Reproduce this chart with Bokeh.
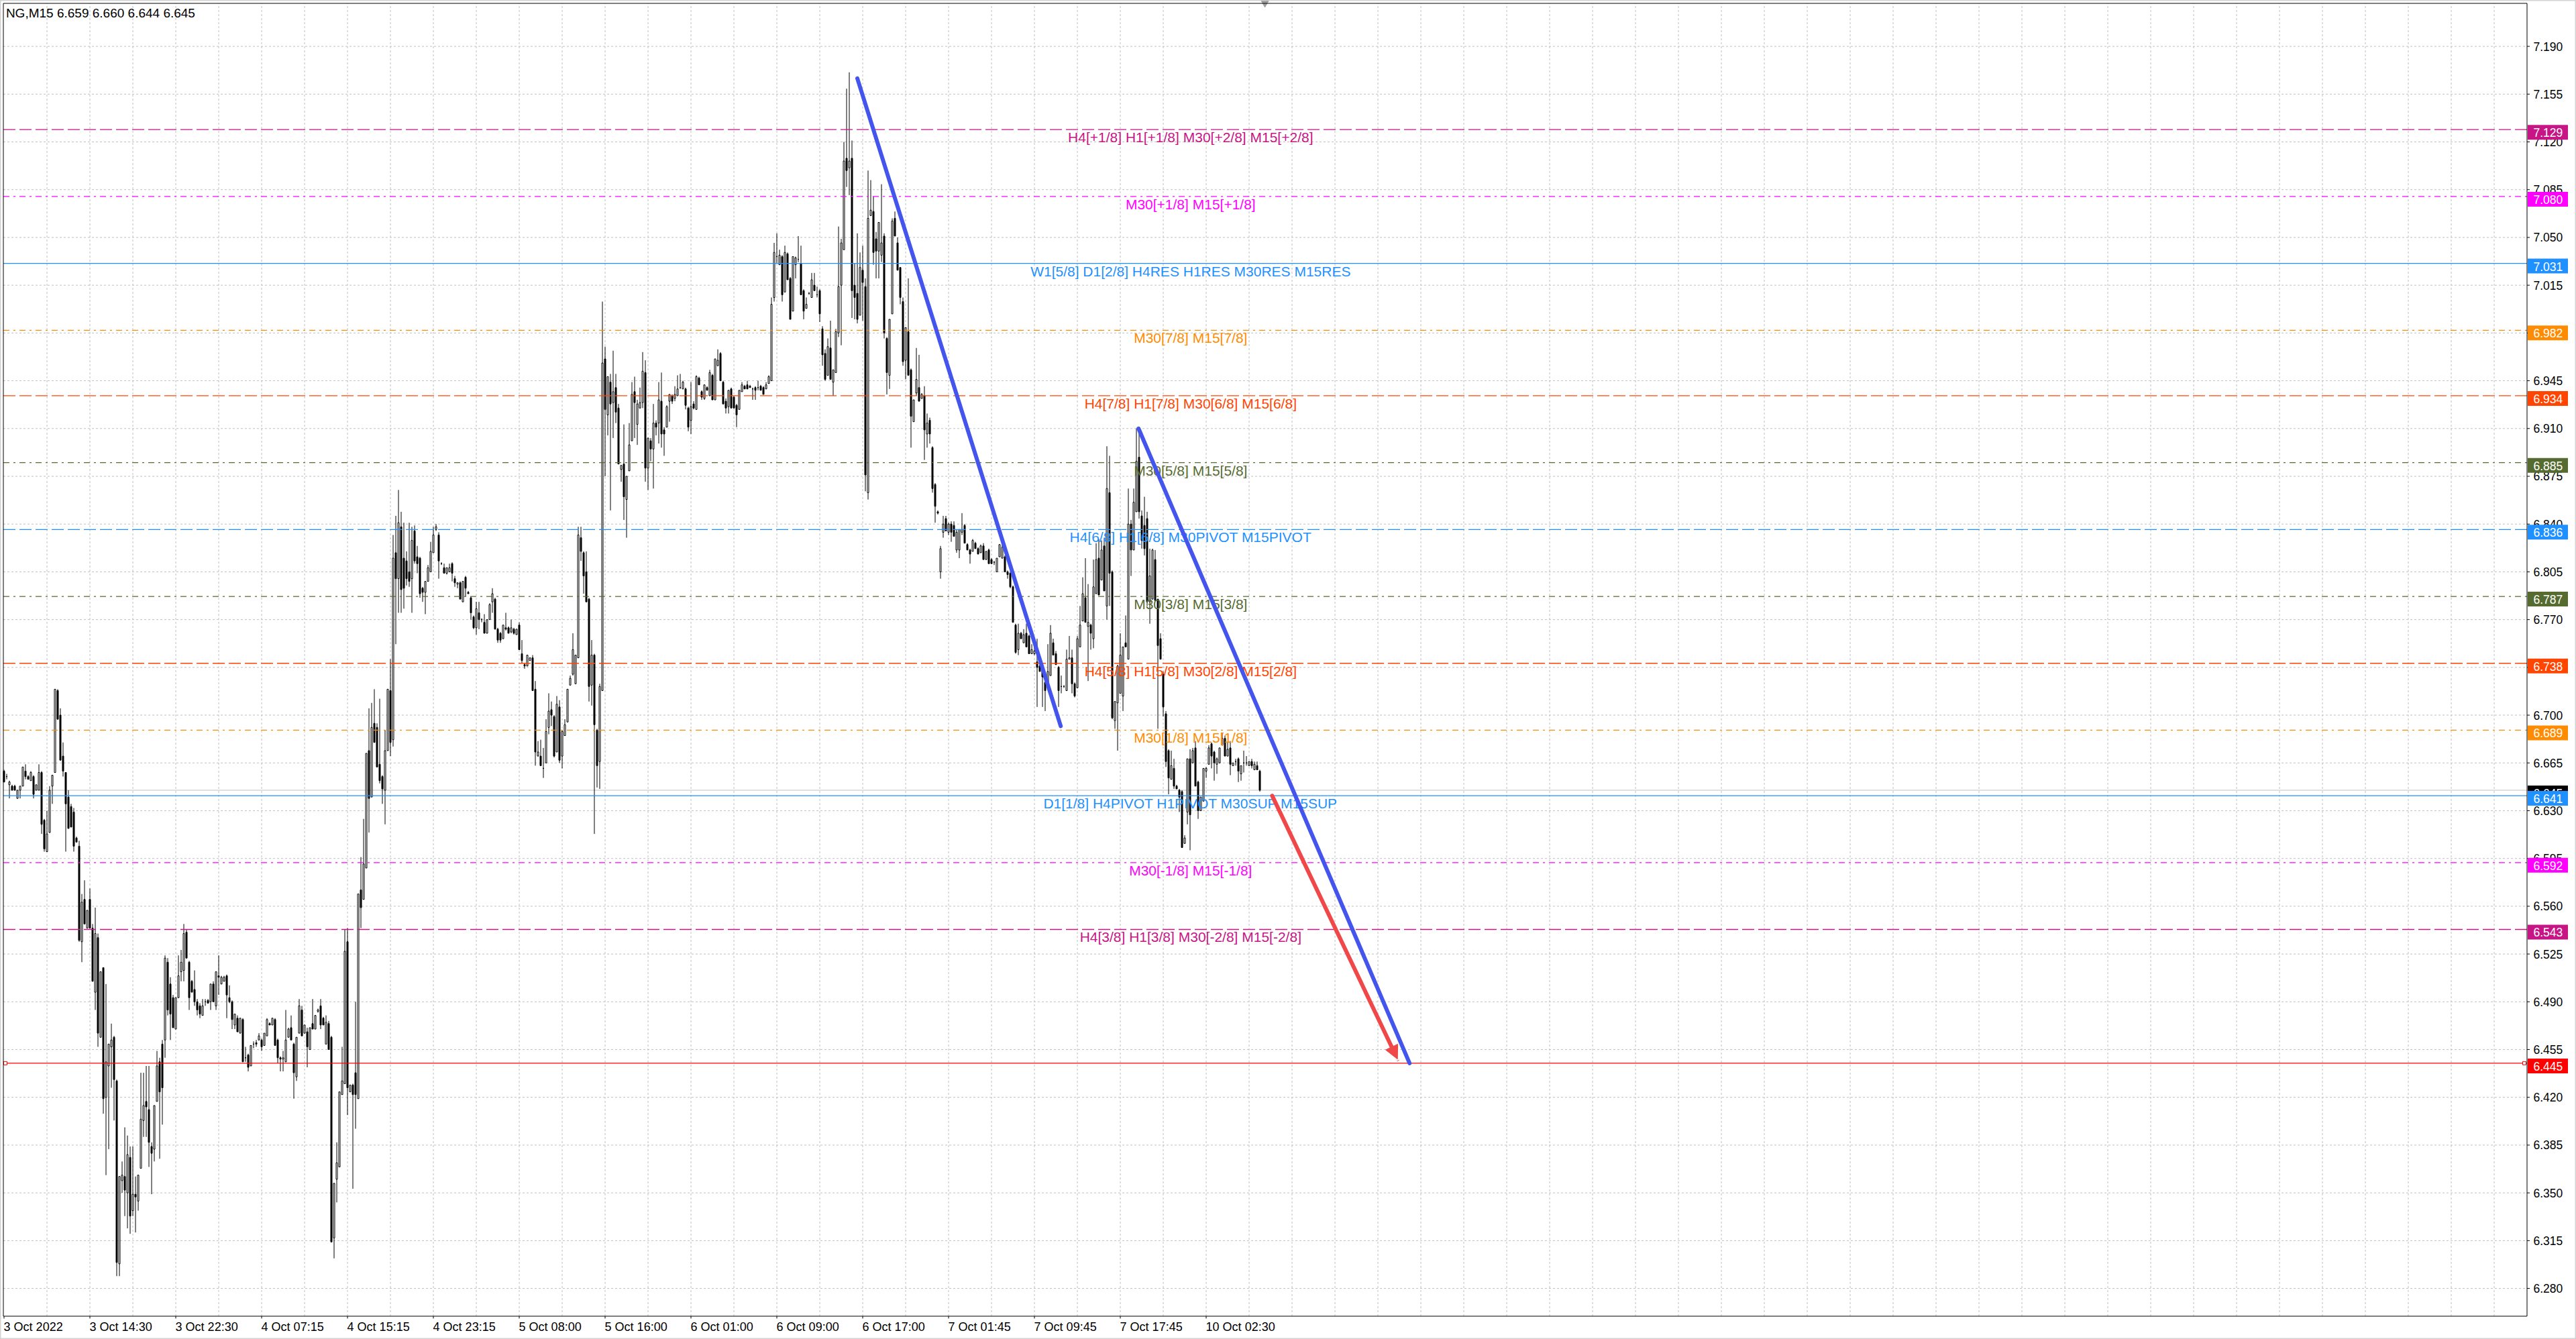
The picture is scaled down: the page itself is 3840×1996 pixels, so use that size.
from bokeh.plotting import figure
from bokeh.models import Arrow, NormalHead, Range1d, ColumnDataSource
from bokeh.core.properties import value
from bokeh.embed import file_html
from bokeh.resources import INLINE

FONT = "Liberation Sans"

# ---------------- data (prices in thousandths) ----------------
symbol = "NG,M15"

open_k = [
    6659, 6655, 6649, 6648, 6648, 6639, 6645, 6648, 6659, 6655,
    6652, 6655, 6645, 6645, 6658, 6623, 6600, 6614, 6648, 6658,
    6718, 6700, 6670, 6658, 6640, 6633, 6629, 6610, 6604, 6534,
    6565, 6544, 6565, 6544, 6497, 6537, 6464, 6515, 6420, 6443,
    6457, 6464, 6432, 6298, 6359, 6362, 6350, 6376, 6337, 6349,
    6344, 6368, 6403, 6417, 6411, 6384, 6382, 6417, 6446, 6459,
    6462, 6519, 6503, 6493, 6470, 6493, 6512, 6513, 6541, 6519,
    6505, 6499, 6490, 6487, 6480, 6490, 6491, 6490, 6503, 6487,
    6509, 6503, 6505, 6509, 6493, 6490, 6473, 6478, 6467, 6477,
    6449, 6451, 6443, 6459, 6460, 6462, 6462, 6458, 6465, 6474,
    6473, 6477, 6462, 6449, 6448, 6446, 6464, 6471, 6459, 6435,
    6467, 6484, 6467, 6468, 6455, 6474, 6470, 6483, 6487, 6478,
    6459, 6474, 6464, 6317, 6360, 6369, 6422, 6430, 6534, 6424,
    6429, 6438, 6419, 6572, 6565, 6588, 6674, 6640, 6694, 6691,
    6664, 6655, 6645, 6674, 6718, 6682, 6819, 6800, 6838, 6815,
    6813, 6805, 6800, 6835, 6816, 6815, 6793, 6790, 6798, 6805,
    6819, 6836, 6832, 6811, 6808, 6804, 6805, 6811, 6800, 6796,
    6797, 6783, 6801, 6790, 6786, 6772, 6764, 6775, 6770, 6768,
    6760, 6770, 6783, 6785, 6763, 6760, 6756, 6764, 6764, 6761,
    6763, 6759, 6766, 6745, 6737, 6736, 6740, 6742, 6719, 6670,
    6670, 6661, 6665, 6691, 6704, 6699, 6673, 6706, 6670, 6685,
    6695, 6722, 6730, 6723, 6742, 6830, 6819, 6805, 6785, 6722,
    6744, 6689, 6666, 6718, 6961, 6920, 6944, 6929, 6940, 6925,
    6880, 6884, 6858, 6879, 6901, 6937, 6913, 6925, 6929, 6951,
    6881, 6901, 6895, 6914, 6914, 6930, 6909, 6911, 6930, 6934,
    6932, 6934, 6940, 6939, 6939, 6925, 6916, 6928, 6924, 6947,
    6937, 6932, 6940, 6934, 6949, 6931, 6956, 6965, 6944, 6930,
    6926, 6939, 6933, 6927, 6924, 6937, 6941, 6942, 6941, 6939,
    6940, 6940, 6941, 6940, 6939, 6943, 6945, 7006, 7036, 7030,
    7036, 7010, 7038, 7020, 6996, 7030, 7034, 7031, 7011, 6998,
    7009, 7006, 7015, 7008, 7011, 6983, 6965, 6949, 6969, 6944,
    6951, 6980, 7015, 7041, 7108, 7101, 7108, 7015, 7009, 6993,
    7026, 7014, 6863, 7066, 7069, 7049, 7040, 7037, 7051, 6976,
    6949, 6994, 7064, 7046, 7028, 7003, 6960, 6981, 6953, 6915,
    6936, 6940, 6932, 6934, 6906, 6916, 6896, 6869, 6849, 6805,
    6834, 6844, 6834, 6840, 6839, 6821, 6821, 6834, 6839, 6825,
    6821, 6820, 6826, 6822, 6819, 6824, 6814, 6821, 6814, 6812,
    6805, 6816, 6815, 6816, 6805, 6804, 6794, 6766, 6748, 6760,
    6753, 6760, 6758, 6745, 6745, 6739, 6736, 6735, 6724, 6720,
    6729, 6753, 6745, 6735, 6721, 6721, 6718, 6741, 6742, 6723,
    6720, 6750, 6769, 6786, 6765, 6766, 6756, 6789, 6815, 6799,
    6824, 6780, 6863, 6805, 6696, 6709, 6716, 6714, 6753, 6741,
    6840, 6821, 6849, 6889, 6846, 6839, 6844, 6783, 6785, 6814,
    6785, 6756, 6730, 6701, 6674, 6653, 6661, 6648, 6645, 6644,
    6606, 6629, 6668, 6665, 6676, 6651, 6630, 6637, 6659, 6664,
    6679, 6673, 6664, 6665, 6678, 6683, 6670, 6676, 6663, 6666,
    6668, 6657, 6665, 6665, 6663, 6666, 6660, 6663, 6659,
]

high_k = [
    6660, 6657, 6652, 6649, 6649, 6645, 6648, 6662, 6664, 6656,
    6659, 6656, 6649, 6664, 6659, 6624, 6630, 6648, 6656, 6719,
    6719, 6705, 6680, 6658, 6645, 6635, 6632, 6611, 6608, 6569,
    6579, 6557, 6573, 6547, 6559, 6540, 6512, 6515, 6503, 6459,
    6474, 6465, 6433, 6362, 6373, 6398, 6392, 6384, 6384, 6362,
    6363, 6438, 6438, 6443, 6443, 6387, 6414, 6454, 6449, 6462,
    6524, 6522, 6508, 6495, 6493, 6524, 6528, 6547, 6543, 6520,
    6506, 6513, 6492, 6489, 6492, 6492, 6492, 6503, 6505, 6512,
    6524, 6509, 6509, 6510, 6502, 6491, 6481, 6480, 6478, 6478,
    6457, 6452, 6458, 6461, 6462, 6467, 6463, 6467, 6478, 6475,
    6478, 6478, 6463, 6450, 6454, 6484, 6471, 6480, 6460, 6464,
    6492, 6487, 6473, 6471, 6471, 6492, 6480, 6485, 6492, 6479,
    6480, 6476, 6465, 6357, 6387, 6424, 6457, 6543, 6544, 6429,
    6430, 6490, 6569, 6596, 6624, 6672, 6705, 6709, 6719, 6694,
    6712, 6656, 6689, 6719, 6741, 6832, 6846, 6865, 6849, 6841,
    6820, 6841, 6838, 6839, 6824, 6816, 6794, 6798, 6810, 6827,
    6838, 6840, 6834, 6812, 6811, 6808, 6811, 6812, 6802, 6797,
    6798, 6798, 6802, 6791, 6787, 6773, 6783, 6783, 6771, 6774,
    6770, 6782, 6793, 6786, 6764, 6761, 6766, 6775, 6765, 6770,
    6764, 6763, 6768, 6755, 6738, 6744, 6742, 6744, 6725, 6681,
    6682, 6676, 6697, 6716, 6710, 6700, 6714, 6711, 6689, 6697,
    6719, 6729, 6760, 6744, 6838, 6838, 6820, 6820, 6786, 6755,
    6745, 6690, 6723, 7003, 6970, 6948, 6950, 6967, 6950, 6928,
    6883, 6913, 6875, 6914, 6944, 6948, 6931, 6940, 6966, 6960,
    6903, 6903, 6928, 6916, 6944, 6951, 6911, 6927, 6935, 6935,
    6941, 6949, 6950, 6945, 6940, 6926, 6944, 6930, 6949, 6948,
    6938, 6942, 6941, 6953, 6950, 6961, 6968, 6966, 6945, 6932,
    6938, 6940, 6934, 6928, 6938, 6944, 6942, 6945, 6942, 6940,
    6941, 6945, 6942, 6941, 6944, 6949, 7006, 7046, 7053, 7041,
    7037, 7044, 7039, 7021, 7036, 7036, 7051, 7044, 7012, 7006,
    7010, 7024, 7024, 7014, 7012, 6985, 6968, 6976, 6989, 6953,
    6983, 7058, 7049, 7120, 7159, 7171, 7121, 7031, 7053, 7039,
    7044, 7020, 7099, 7092, 7080, 7054, 7061, 7089, 7053, 6977,
    6990, 7064, 7069, 7050, 7028, 7006, 6984, 7020, 6954, 6931,
    6969, 6964, 6936, 6941, 6921, 6918, 6897, 6870, 6850, 6824,
    6846, 6846, 6841, 6842, 6842, 6836, 6836, 6848, 6840, 6826,
    6822, 6829, 6827, 6823, 6825, 6826, 6820, 6822, 6815, 6813,
    6815, 6825, 6825, 6817, 6806, 6805, 6795, 6767, 6767, 6761,
    6763, 6767, 6759, 6752, 6752, 6756, 6738, 6736, 6725, 6752,
    6766, 6756, 6747, 6736, 6729, 6722, 6748, 6758, 6748, 6724,
    6758, 6780, 6801, 6815, 6796, 6767, 6814, 6826, 6829, 6828,
    6830, 6897, 6890, 6806, 6710, 6737, 6760, 6750, 6773, 6866,
    6843, 6866, 6910, 6910, 6850, 6860, 6849, 6822, 6822, 6821,
    6785, 6760, 6732, 6703, 6675, 6674, 6668, 6649, 6646, 6645,
    6612, 6668, 6675, 6676, 6681, 6652, 6640, 6661, 6662, 6678,
    6680, 6674, 6669, 6676, 6687, 6685, 6680, 6681, 6665, 6668,
    6669, 6663, 6674, 6670, 6666, 6668, 6666, 6666, 6660,
]

low_k = [
    6651, 6653, 6639, 6645, 6645, 6639, 6639, 6648, 6653, 6653,
    6652, 6639, 6645, 6645, 6613, 6600, 6600, 6614, 6635, 6658,
    6697, 6667, 6655, 6600, 6617, 6618, 6600, 6607, 6534, 6519,
    6547, 6544, 6544, 6505, 6484, 6457, 6464, 6408, 6363, 6382,
    6427, 6403, 6289, 6289, 6350, 6333, 6324, 6320, 6333, 6321,
    6337, 6368, 6391, 6391, 6369, 6349, 6373, 6417, 6375, 6400,
    6449, 6480, 6462, 6471, 6470, 6493, 6505, 6505, 6522, 6484,
    6497, 6487, 6480, 6478, 6480, 6487, 6489, 6484, 6490, 6484,
    6495, 6503, 6505, 6478, 6489, 6470, 6470, 6468, 6467, 6446,
    6446, 6439, 6443, 6456, 6457, 6462, 6454, 6458, 6465, 6473,
    6473, 6458, 6445, 6439, 6439, 6446, 6464, 6462, 6419, 6432,
    6467, 6465, 6467, 6442, 6455, 6470, 6470, 6482, 6470, 6473,
    6459, 6455, 6314, 6302, 6343, 6369, 6422, 6430, 6407, 6424,
    6353, 6397, 6419, 6544, 6565, 6588, 6614, 6640, 6680, 6662,
    6650, 6635, 6620, 6674, 6670, 6677, 6752, 6775, 6775, 6778,
    6795, 6794, 6775, 6811, 6804, 6786, 6783, 6774, 6798, 6805,
    6819, 6835, 6800, 6810, 6804, 6803, 6805, 6798, 6794, 6793,
    6785, 6783, 6787, 6789, 6770, 6763, 6759, 6763, 6768, 6760,
    6760, 6770, 6775, 6763, 6753, 6753, 6756, 6762, 6760, 6760,
    6759, 6759, 6748, 6738, 6734, 6736, 6740, 6718, 6663, 6670,
    6663, 6654, 6665, 6686, 6692, 6669, 6673, 6665, 6661, 6685,
    6695, 6722, 6729, 6723, 6742, 6813, 6789, 6783, 6710, 6707,
    6613, 6647, 6646, 6718, 6875, 6905, 6850, 6903, 6914, 6884,
    6871, 6843, 6830, 6879, 6901, 6903, 6898, 6925, 6925, 6871,
    6865, 6886, 6866, 6905, 6899, 6896, 6890, 6911, 6915, 6928,
    6930, 6934, 6939, 6939, 6924, 6908, 6906, 6924, 6924, 6942,
    6931, 6931, 6938, 6934, 6931, 6931, 6956, 6945, 6928, 6921,
    6921, 6925, 6925, 6911, 6924, 6937, 6939, 6939, 6940, 6931,
    6931, 6938, 6938, 6935, 6939, 6943, 6945, 7003, 7031, 7030,
    7003, 7010, 7019, 6990, 6996, 7020, 7032, 7008, 6990, 6998,
    7008, 7006, 7011, 7006, 6988, 6956, 6945, 6949, 6946, 6934,
    6951, 6977, 6971, 7041, 7087, 7081, 6991, 6990, 6987, 6993,
    6989, 6864, 6858, 7066, 7030, 7020, 7020, 7032, 6976, 6935,
    6939, 6994, 7051, 7026, 7001, 6956, 6946, 6949, 6896, 6915,
    6934, 6930, 6932, 6887, 6896, 6899, 6863, 6841, 6847, 6800,
    6830, 6835, 6832, 6827, 6831, 6819, 6815, 6832, 6826, 6821,
    6811, 6820, 6822, 6818, 6819, 6814, 6814, 6811, 6811, 6810,
    6805, 6816, 6815, 6805, 6800, 6793, 6768, 6745, 6744, 6756,
    6753, 6750, 6745, 6745, 6744, 6706, 6732, 6706, 6703, 6720,
    6729, 6744, 6737, 6706, 6716, 6720, 6718, 6741, 6716, 6713,
    6720, 6750, 6769, 6768, 6725, 6748, 6749, 6789, 6788, 6799,
    6791, 6770, 6780, 6697, 6690, 6674, 6716, 6703, 6750, 6741,
    6802, 6821, 6849, 6844, 6822, 6817, 6780, 6767, 6785, 6784,
    6690, 6741, 6699, 6662, 6642, 6653, 6646, 6646, 6629, 6603,
    6606, 6620, 6601, 6665, 6648, 6624, 6630, 6637, 6654, 6664,
    6661, 6652, 6657, 6665, 6678, 6670, 6670, 6656, 6663, 6663,
    6651, 6652, 6658, 6663, 6663, 6661, 6660, 6660, 6644,
]

close_k = [
    6651, 6655, 6651, 6645, 6645, 6645, 6648, 6662, 6655, 6653,
    6658, 6642, 6649, 6658, 6620, 6602, 6613, 6645, 6656, 6719,
    6697, 6667, 6659, 6635, 6617, 6618, 6604, 6607, 6535, 6563,
    6547, 6557, 6544, 6505, 6540, 6467, 6512, 6419, 6446, 6459,
    6462, 6433, 6299, 6362, 6363, 6352, 6378, 6333, 6349, 6347,
    6363, 6404, 6414, 6413, 6387, 6379, 6414, 6443, 6424, 6427,
    6522, 6484, 6481, 6471, 6493, 6509, 6519, 6540, 6522, 6493,
    6497, 6490, 6484, 6481, 6487, 6490, 6489, 6503, 6490, 6512,
    6508, 6508, 6508, 6495, 6490, 6477, 6481, 6468, 6478, 6446,
    6449, 6442, 6458, 6459, 6459, 6465, 6457, 6467, 6477, 6473,
    6478, 6458, 6449, 6448, 6449, 6462, 6470, 6462, 6438, 6464,
    6487, 6465, 6473, 6457, 6471, 6470, 6480, 6484, 6473, 6473,
    6475, 6455, 6314, 6357, 6372, 6424, 6432, 6527, 6427, 6429,
    6422, 6422, 6569, 6559, 6591, 6672, 6639, 6691, 6680, 6662,
    6652, 6646, 6674, 6719, 6680, 6815, 6800, 6841, 6792, 6793,
    6800, 6798, 6828, 6813, 6811, 6789, 6790, 6798, 6808, 6820,
    6832, 6838, 6813, 6811, 6804, 6808, 6808, 6804, 6797, 6797,
    6785, 6798, 6793, 6789, 6775, 6764, 6778, 6770, 6770, 6760,
    6770, 6781, 6789, 6763, 6755, 6755, 6766, 6763, 6760, 6764,
    6760, 6763, 6748, 6740, 6736, 6744, 6742, 6718, 6673, 6673,
    6663, 6661, 6688, 6703, 6700, 6670, 6708, 6667, 6688, 6693,
    6719, 6727, 6748, 6744, 6832, 6820, 6802, 6783, 6721, 6744,
    6693, 6663, 6721, 6958, 6924, 6948, 6928, 6937, 6922, 6884,
    6883, 6860, 6875, 6898, 6935, 6929, 6928, 6929, 6952, 6881,
    6903, 6895, 6914, 6911, 6931, 6906, 6906, 6926, 6935, 6930,
    6935, 6939, 6940, 6944, 6927, 6911, 6926, 6925, 6948, 6942,
    6933, 6942, 6938, 6951, 6931, 6961, 6960, 6945, 6928, 6925,
    6938, 6925, 6925, 6920, 6938, 6942, 6939, 6939, 6940, 6939,
    6938, 6940, 6938, 6935, 6942, 6948, 7001, 7039, 7036, 7037,
    7008, 7039, 7019, 6990, 7036, 7035, 7034, 7008, 6996, 7001,
    7009, 7019, 7011, 7008, 6994, 6964, 6946, 6970, 6946, 6953,
    6981, 7014, 7046, 7106, 7099, 7106, 7011, 7006, 6990, 7028,
    7017, 6876, 7064, 7070, 7039, 7040, 7061, 7046, 6980, 6951,
    6990, 7062, 7051, 7026, 7006, 6959, 6984, 6949, 6919, 6931,
    6946, 6930, 6935, 6909, 6914, 6906, 6866, 6853, 6848, 6822,
    6840, 6835, 6840, 6834, 6831, 6834, 6836, 6836, 6826, 6821,
    6818, 6828, 6822, 6818, 6824, 6814, 6820, 6811, 6811, 6812,
    6815, 6825, 6823, 6805, 6803, 6794, 6768, 6746, 6760, 6756,
    6759, 6750, 6745, 6748, 6747, 6735, 6732, 6728, 6718, 6732,
    6760, 6744, 6737, 6718, 6721, 6721, 6741, 6742, 6723, 6714,
    6756, 6766, 6789, 6768, 6768, 6760, 6794, 6814, 6788, 6821,
    6791, 6866, 6804, 6698, 6710, 6736, 6744, 6750, 6750, 6840,
    6821, 6856, 6886, 6849, 6828, 6822, 6783, 6802, 6821, 6784,
    6751, 6741, 6706, 6666, 6654, 6663, 6648, 6646, 6640, 6603,
    6610, 6668, 6627, 6674, 6648, 6630, 6640, 6661, 6661, 6676,
    6670, 6665, 6668, 6676, 6683, 6670, 6675, 6664, 6665, 6666,
    6659, 6663, 6665, 6665, 6666, 6663, 6664, 6660, 6645,
]

time_label_bars = [0, 32, 64, 96, 128, 160, 192, 224, 256, 288, 320, 352, 384, 416, 448]
time_labels = ["3 Oct 2022", "3 Oct 14:30", "3 Oct 22:30", "4 Oct 07:15", "4 Oct 15:15",
               "4 Oct 23:15", "5 Oct 08:00", "5 Oct 16:00", "6 Oct 01:00", "6 Oct 09:00",
               "6 Oct 17:00", "7 Oct 01:45", "7 Oct 09:45", "7 Oct 17:45", "10 Oct 02:30"]

price_ticks = [6.280, 6.315, 6.350, 6.385, 6.420, 6.455, 6.490, 6.525, 6.560, 6.595,
               6.630, 6.665, 6.700, 6.735, 6.770, 6.805, 6.840, 6.875, 6.910, 6.945,
               6.980, 7.015, 7.050, 7.085, 7.120, 7.155, 7.190]

level_values = [7.129, 7.080, 7.031, 6.982, 6.934, 6.885, 6.836, 6.787, 6.738, 6.689,
                6.641, 6.592, 6.543]
level_texts = [
    "H4[+1/8] H1[+1/8] M30[+2/8] M15[+2/8]",
    "M30[+1/8] M15[+1/8]",
    "W1[5/8] D1[2/8] H4RES H1RES M30RES M15RES",
    "M30[7/8] M15[7/8]",
    "H4[7/8] H1[7/8] M30[6/8] M15[6/8]",
    "M30[5/8] M15[5/8]",
    "H4[6/8] H1[6/8] M30PIVOT M15PIVOT",
    "M30[3/8] M15[3/8]",
    "H4[5/8] H1[5/8] M30[2/8] M15[2/8]",
    "M30[1/8] M15[1/8]",
    "D1[1/8] H4PIVOT H1PIVOT M30SUP M15SUP",
    "M30[-1/8] M15[-1/8]",
    "H4[3/8] H1[3/8] M30[-2/8] M15[-2/8]",
]
target_level = 6.445
label_bar = 442.2

trend_x0 = [318.0, 422.8]
trend_y0 = [7.1665, 6.910]
trend_x1 = [393.8, 523.8]
trend_y1 = [6.692, 6.445]

arrow_x = [472.6, 519.3]
arrow_y = [6.641, 6.448]

# ---------------- styles ----------------
level_colors = ["#C71585", "#FF00FF", "#1E90FF", "#FF8C00", "#FF4500", "#556B2F",
                "#1E90FF", "#556B2F", "#FF4500", "#FF8C00", "#1E90FF", "#FF00FF", "#C71585"]
level_dashes = ["18 6", "9 6 3 6", "solid", "9 6 3 6", "18 6", "9 6 3 6",
                "18 6", "9 6 3 6", "18 6", "9 6 3 6", "solid", "9 6 3 6", "18 6"]
TARGET_COLOR = "#FF0000"
TREND_COLOR = "#4455EE"
ARROW_COLOR = "#F04848"
GRID_COLOR = "#C0C0C0"

# ---------------- layout (page pixels -> data) ----------------
W, H = 3840, 1996
BAR_PX = 4.0          # pixels per bar
PPU = 2034.6          # pixels per price unit
x_start = -5.5 / BAR_PX
y_top = 7.190 + 68.6 / PPU
x_end = x_start + W / BAR_PX
y_bottom = y_top - H / PPU


def bx(px):
    return x_start + px / BAR_PX


def py(px):
    return y_top - px / PPU


chart_left, chart_right = bx(4.5), bx(3766.5)
chart_top, chart_bottom = py(4.5), py(1961.5)

# ---------------- derived columns ----------------
n = len(close_k)
bars = list(range(n))
o = [v / 1000 for v in open_k]
h = [v / 1000 for v in high_k]
l = [v / 1000 for v in low_k]
c = [v / 1000 for v in close_k]
src = ColumnDataSource(dict(
    x=bars, o=o, h=h, l=l, c=c,
    top=[max(a, b) for a, b in zip(o, c)],
    bottom=[min(a, b) for a, b in zip(o, c)],
    fill=["white" if cc >= oo else "black" for oo, cc in zip(o, c)],
))

p = figure(width=W, height=H, x_range=Range1d(x_start, x_end), y_range=Range1d(y_bottom, y_top),
           x_axis_location=None, y_axis_location=None, output_backend="svg",
           toolbar_location=None, min_border=0,
           background_fill_color="white", border_fill_color="white")
p.grid.visible = False
p.outline_line_color = "#D4D4D4"
p.outline_line_width = 2

txt = dict(text_font=value(FONT))

# grid
grid_bars = list(range(16, int(chart_right) + 1, 16))
p.segment(x0=chart_left, x1=chart_right, y0=price_ticks, y1=price_ticks,
          line_color=GRID_COLOR, line_dash="3 3", line_width=1)
p.segment(x0=grid_bars, x1=grid_bars, y0=chart_bottom, y1=chart_top,
          line_color=GRID_COLOR, line_dash="3 3", line_width=1)

# bid line
p.segment(x0=chart_left, x1=chart_right, y0=[c[-1]], y1=[c[-1]], line_color="#C0C0C0", line_width=1)

# candles
p.segment(x0="x", y0="l", x1="x", y1="h", source=src, line_color="black", line_width=1)
p.vbar(x="x", width=0.5, top="top", bottom="bottom", source=src,
       fill_color="fill", line_color="black", line_width=1)

# horizontal levels (objects drawn over the chart)
for lv, col, dsh in zip(level_values, level_colors, level_dashes):
    p.segment(x0=chart_left, x1=chart_right, y0=[lv], y1=[lv], line_color=col,
              line_dash=dsh, line_width=1.3)
p.segment(x0=chart_left, x1=chart_right, y0=[target_level], y1=[target_level],
          line_color=TARGET_COLOR, line_width=1.3)

# level texts
p.text(x=[label_bar] * len(level_values), y=level_values, text=level_texts,
       text_color=level_colors, text_font_size="21px",
       text_align="center", text_baseline="top", **txt)

# trend lines
p.segment(x0=trend_x0, y0=trend_y0, x1=trend_x1, y1=trend_y1,
          line_color=TREND_COLOR, line_width=6, line_cap="round")

# target arrow
p.add_layout(Arrow(x_start=arrow_x[0], y_start=arrow_y[0], x_end=arrow_x[1], y_end=arrow_y[1],
                   line_color=ARROW_COLOR, line_width=6, line_cap="round",
                   end=NormalHead(size=20, fill_color=ARROW_COLOR, line_color=ARROW_COLOR,
                                  line_width=1)))

# line anchor markers and chart-shift marker
p.scatter(x=[bx(7.5), bx(3762.5)], y=[target_level, target_level], marker="square",
          size=5, fill_color="white", line_color=TARGET_COLOR, line_width=1)
p.scatter(x=[n + 0.9], y=[py(4)], marker="inverted_triangle", size=11,
          fill_color="#A0A0A0", line_color="#A0A0A0")

# chart border and scale lines
p.segment(x0=[chart_left, chart_left, chart_right, chart_left],
          y0=[chart_bottom, chart_top, chart_bottom, chart_bottom],
          x1=[chart_left, chart_right, chart_right, chart_right],
          y1=[chart_top, chart_top, chart_top, chart_bottom],
          line_color="black", line_width=1)

# price scale: ticks and labels
p.segment(x0=chart_right, x1=bx(3770.5), y0=price_ticks, y1=price_ticks,
          line_color="black", line_width=1)
p.text(x=bx(3776), y=price_ticks, text=[f"{t:.3f}" for t in price_ticks],
       text_color="black", text_font_size="17.5px", text_align="left",
       text_baseline="middle", **txt)

# price boxes (bid first, then levels)
box_vals = level_values + [target_level]
box_cols = level_colors + [TARGET_COLOR]
p.quad(left=bx(3767.5), right=bx(3827.5), top=[c[-1] + 7 / PPU], bottom=[c[-1] - 15 / PPU],
       fill_color="black", line_color=None)
p.text(x=bx(3776), y=[c[-1] - 4.5 / PPU], text=[f"{c[-1]:.3f}"], text_color="white",
       text_font_size="17.5px", text_align="left", text_baseline="middle", **txt)
p.quad(left=bx(3767.5), right=bx(3827.5), top=[v + 7 / PPU for v in box_vals],
       bottom=[v - 15 / PPU for v in box_vals], fill_color=box_cols, line_color=None)
p.text(x=bx(3776), y=[v - 4.5 / PPU for v in box_vals], text=[f"{v:.3f}" for v in box_vals],
       text_color="white", text_font_size="17.5px", text_align="left",
       text_baseline="middle", **txt)

# time scale: ticks and labels
p.segment(x0=time_label_bars, x1=time_label_bars, y0=chart_bottom, y1=py(1965),
          line_color="black", line_width=1)
p.text(x=[b - 0.1 for b in time_label_bars], y=py(1977), text=time_labels,
       text_color="black", text_font_size="18px", text_align="left",
       text_baseline="middle", **txt)

# chart title
title_text = f"{symbol}  {o[-1]:.3f} {h[-1]:.3f} {l[-1]:.3f} {c[-1]:.3f}"
p.text(x=[bx(8.4)], y=[py(19)], text=[title_text], text_color="black",
       text_font_size="19px", text_align="left", text_baseline="middle", **txt)

open("out.html", "w").write(file_html(p, INLINE))
